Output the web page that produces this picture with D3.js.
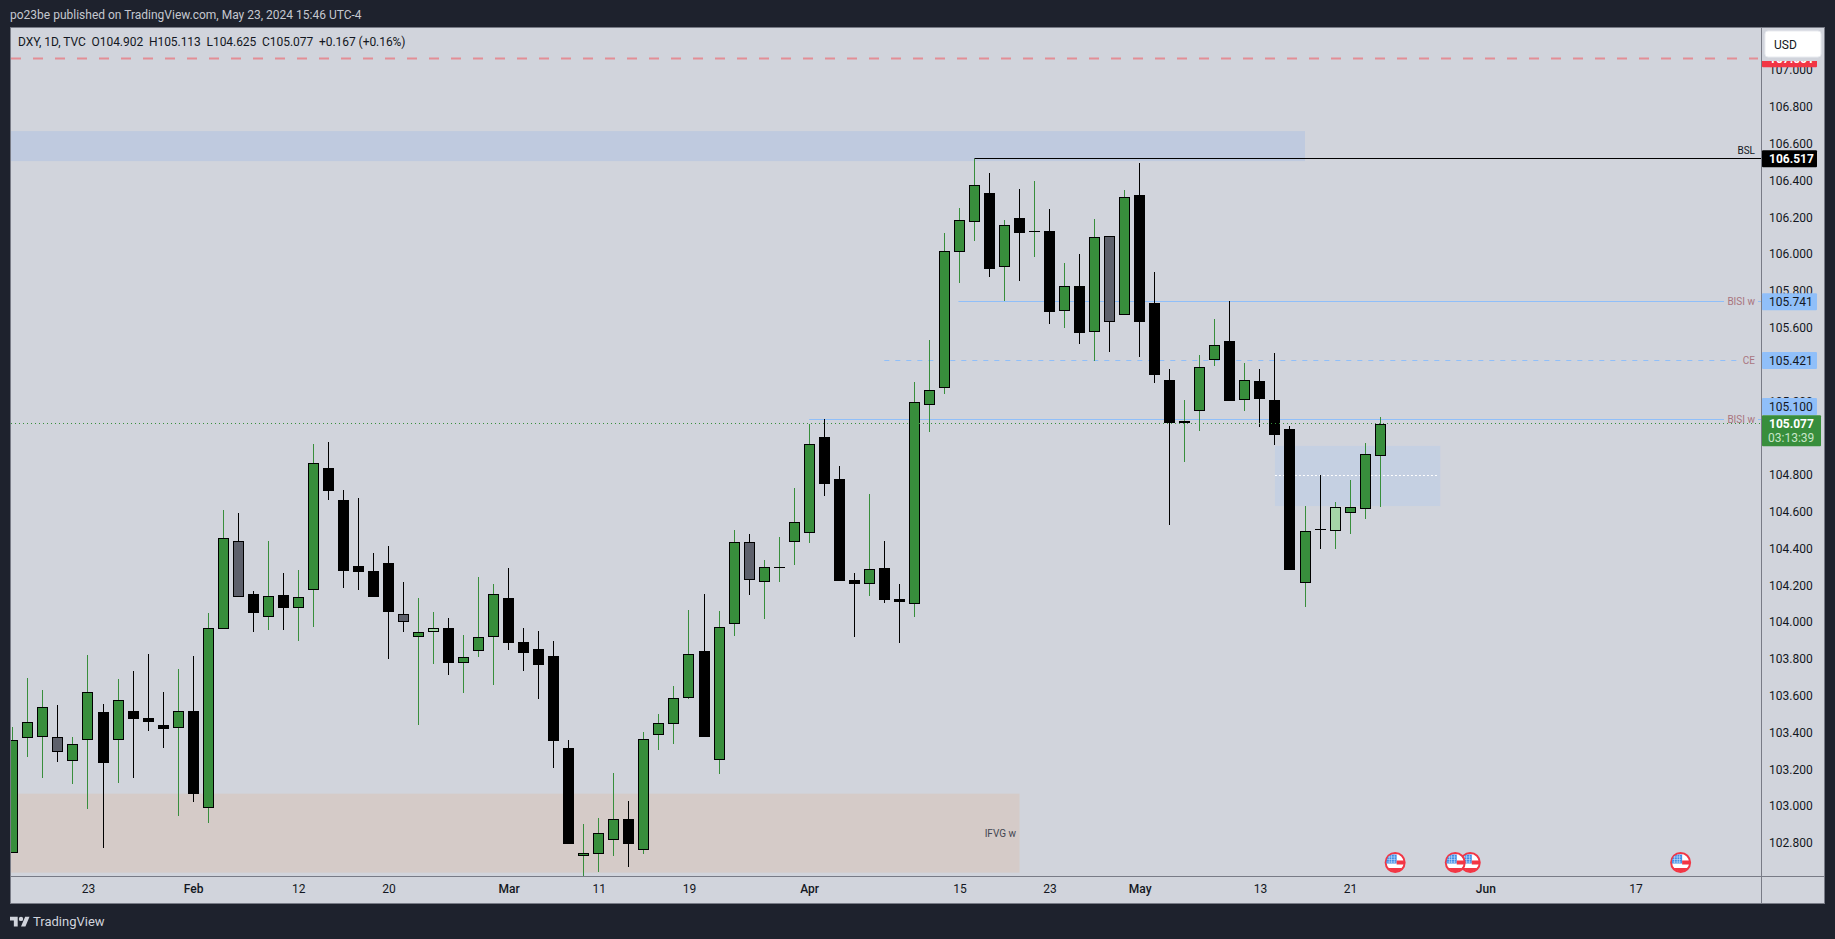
<!DOCTYPE html>
<html>
<head>
<meta charset="utf-8">
<script src="https://d3js.org/d3.v7.min.js"></script>
<style>
  html, body { margin: 0; padding: 0; background: #1e222d; overflow: hidden; }
  text { font-family: Roboto, sans-serif; font-size: 12px; }
</style>
</head>
<body>
<svg id="drawing_region"></svg>
<script>
// trading days, mm-dd, 2024. everything after 05-23 is empty future space
const sessions = [
    '01-16','01-17','01-18','01-19','01-22','01-23','01-24','01-25','01-26','01-29','01-30','01-31',
    '02-01','02-02','02-05','02-06','02-07','02-08','02-09','02-12','02-13','02-14','02-15','02-16',
    '02-19','02-20','02-21','02-22','02-23','02-26','02-27','02-28','02-29',
    '03-01','03-04','03-05','03-06','03-07','03-08','03-11','03-12','03-13','03-14','03-15',
    '03-18','03-19','03-20','03-21','03-22','03-25','03-26','03-27','03-28',
    '04-01','04-02','04-03','04-04','04-05','04-08','04-09','04-10','04-11','04-12',
    '04-15','04-16','04-17','04-18','04-19','04-22','04-23','04-24','04-25','04-26','04-29','04-30',
    '05-01','05-02','05-03','05-06','05-07','05-08','05-09','05-10','05-13','05-14','05-15','05-16','05-17',
    '05-20','05-21','05-22','05-23','05-24','05-27','05-28','05-29','05-30','05-31',
    '06-03','06-04','06-05','06-06','06-07','06-10','06-11','06-12','06-13','06-14','06-17','06-18','06-19','06-20'
];

const opens = [
    102.743,103.368,103.373,103.373,103.243,103.357,103.509,103.357,103.516,103.478,
    103.440,103.422,103.516,102.991,103.964,104.439,104.152,104.029,104.147,104.078,
    104.176,104.837,104.663,104.304,104.277,104.321,104.042,103.917,103.947,103.967,
    103.779,103.844,103.920,104.130,103.890,103.853,103.815,103.315,102.730,102.741,
    102.817,102.929,102.762,103.387,103.447,103.589,103.842,103.248,103.991,104.433,
    104.219,104.297,104.436,104.485,105.005,104.777,104.228,104.208,104.293,104.125,
    104.099,105.181,105.273,106.012,106.176,106.330,105.931,106.194,106.123,106.123,
    105.692,105.826,105.578,106.096,105.670,106.319,105.732,105.314,105.080,105.145,
    105.426,105.527,105.205,105.310,105.207,105.049,104.210,104.506,104.496,104.594,
    104.616,104.902
];
const highs = [
    103.429,103.696,103.630,103.549,103.375,103.821,103.554,103.689,103.734,103.826,
    103.620,103.745,103.815,104.049,104.609,104.592,104.167,104.440,104.266,104.283,
    104.967,104.978,104.717,104.674,104.375,104.413,104.217,104.130,104.054,104.022,
    103.929,104.245,104.207,104.293,103.967,103.951,103.897,103.359,102.902,102.935,
    103.179,103.027,103.402,103.500,103.652,104.065,104.152,104.060,104.500,104.478,
    104.337,104.462,104.728,105.076,105.103,104.848,104.266,104.696,104.440,104.207,
    105.304,105.533,106.114,106.250,106.517,106.440,106.185,106.353,106.397,106.245,
    105.951,106.000,106.190,106.096,106.348,106.495,105.902,105.375,105.207,105.451,
    105.647,105.745,105.408,105.375,105.462,105.065,104.630,104.799,104.652,104.772,
    104.973,105.113
];
const lows = [
    102.743,103.268,103.154,103.241,103.121,102.985,102.773,103.127,103.154,103.409,
    103.317,102.947,103.023,102.909,103.964,104.138,103.947,103.958,103.958,103.898,
    103.974,104.665,104.186,104.176,104.138,103.800,103.947,103.442,103.773,103.714,
    103.616,103.811,103.659,103.849,103.735,103.583,103.208,102.795,102.620,102.643,
    102.730,102.670,102.741,103.306,103.339,103.583,103.377,103.176,103.926,104.148,
    104.018,104.217,104.311,104.429,104.686,104.223,103.920,104.143,104.105,103.888,
    104.029,105.033,105.239,105.844,106.072,105.877,105.745,105.855,105.985,105.621,
    105.599,105.513,105.420,105.469,105.670,105.442,105.301,104.529,104.871,105.040,
    105.393,105.203,105.148,105.061,104.964,104.284,104.083,104.398,104.398,104.480,
    104.561,104.625
];
const closes = [
    103.357,103.455,103.536,103.292,103.335,103.618,103.235,103.574,103.475,103.458,
    103.420,103.515,103.067,103.966,104.455,104.138,104.050,104.140,104.078,104.134,
    104.862,104.714,104.279,104.273,104.138,104.056,103.998,103.944,103.966,103.779,
    103.808,103.917,104.151,103.888,103.833,103.768,103.355,102.795,102.743,102.852,
    102.928,102.795,103.362,103.449,103.585,103.824,103.377,103.971,104.433,104.227,
    104.297,104.297,104.542,104.966,104.752,104.223,104.207,104.286,104.120,104.109,
    105.194,105.259,106.015,106.183,106.373,105.920,106.156,106.116,106.123,105.686,
    105.824,105.572,106.091,105.632,106.308,105.632,105.344,105.080,105.091,105.384,
    105.504,105.203,105.314,105.214,105.018,104.284,104.493,104.502,104.623,104.623,
    104.911,105.077
];

// bars the original author painted by hand
const greyBars = ['01-19','02-06','02-21','03-25','04-29'];
const lightBars = ['02-23','05-06','05-20'];

const priceTicks = [107,106.8,106.6,106.4,106.2,106,105.8,105.6,105.4,105.2,105,104.8,104.6,104.4,104.2,104,103.8,103.6,103.4,103.2,103,102.8];
const timeTicks = ['01-23','02-01','02-12','02-20','03-01','03-11','03-19','04-01','04-15','04-23','05-01','05-13','05-21','06-03','06-17'];
const timeLabels = ['23','Feb','12','20','Mar','11','19','Apr','15','23','May','13','21','Jun','17'];
const monthLabels = ['Feb','Mar','Apr','May','Jun'];

const eventDates = ['06-20','05-31','05-30','05-24'];

// horizontal levels and zones, start null means from the left edge of the pane
const zoneStart = [null, null, '05-14'];
const zoneEnd = ['05-16', '04-19', '05-29'];
const zoneTop = [106.668, 103.067, 104.957];
const zoneBottom = [106.505, 102.638, 104.630];

const bsl = 106.517, bisiHigh = 105.741, ce = 105.421, bisiLow = 105.1, lastClose = 105.077, redLevel = 107.061, zoneMid = 104.797;

class CandleChart {

    constructor( config ) {
        this.config = config;
        this.init();
    }

    init() {
        let self = this;
        let c = self.config;

        self.svg = d3.select( c.parent )
            .attr('width', c.width)
            .attr('height', c.height)
            .style('display', 'block');

        self.xscale = d3.scalePoint()
            .domain( sessions )
            .range( [12.85, 12.85 + 15.025 * (sessions.length - 1)] );

        self.yscale = d3.scaleLinear()
            .domain( [107, 102.8] )
            .range( [70, 842.8] );

        self.bars = sessions.slice(0, opens.length).map( (d, i) => ({
            date: d, o: opens[i], h: highs[i], l: lows[i], c: closes[i]
        }));

        self.svg.append('defs').append('clipPath')
            .attr('id', 'pane_clip')
            .append('rect')
            .attr('x', c.left).attr('y', c.top)
            .attr('width', c.right - c.left).attr('height', c.bottom - c.top);

        self.svg.append('defs').append('clipPath')
            .attr('id', 'flag_clip')
            .append('circle')
            .attr('r', 9);
    }

    update() {
        let self = this;
        self.render();
    }

    render() {
        let self = this;
        self.drawFrame();
        self.pane = self.svg.append('g').attr('clip-path', 'url(#pane_clip)');
        self.drawZones();
        self.drawLevels();
        self.drawCandles();
        self.drawEvents();
        self.drawAxes();
        self.drawPriceLabels();
        self.drawTexts();
    }

    drawFrame() {
        let self = this;
        let c = self.config;

        self.svg.append('rect')
            .attr('x', c.left - 0.5).attr('y', c.top - 0.5)
            .attr('width', c.outerRight - c.left + 1).attr('height', c.outerBottom - c.top + 1)
            .attr('fill', '#d1d4dc')
            .attr('stroke', '#787b86');
    }

    drawZones() {
        let self = this;
        let c = self.config;
        let zoneFill = ['#bfcadf', '#d5cbc8', '#c5d0e2'];

        self.pane.selectAll('.zone')
            .data( zoneEnd )
            .enter()
            .append('rect')
            .attr('class', 'zone')
            .attr('x', (d, i) => zoneStart[i] ? self.xscale(zoneStart[i]) : c.left)
            .attr('y', (d, i) => self.yscale(zoneTop[i]))
            .attr('width', (d, i) => self.xscale(d) - (zoneStart[i] ? self.xscale(zoneStart[i]) : c.left))
            .attr('height', (d, i) => self.yscale(zoneBottom[i]) - self.yscale(zoneTop[i]))
            .attr('fill', (d, i) => zoneFill[i]);
    }

    hline( price, x1, x2, color, dash, width ) {
        let self = this;
        let y = Math.floor( self.yscale(price) ) + 0.5;
        self.pane.append('line')
            .attr('x1', x1).attr('x2', x2)
            .attr('y1', y).attr('y2', y)
            .attr('stroke', color)
            .attr('stroke-width', width || 1)
            .attr('stroke-dasharray', dash || null);
    }

    drawLevels() {
        let self = this;
        let c = self.config;
        let blue = '#90bff9';

        self.hline( redLevel, c.left, c.right - 3, '#e38e95', '10 12', 2 );
        self.hline( bsl, self.xscale('04-16'), c.right, '#000000' );
        self.hline( bisiHigh, self.xscale('04-15') - 1, 1724, blue );
        self.hline( bisiHigh, 1758, c.right, blue );
        self.hline( ce, self.xscale('04-08'), 1737, blue, '5 6' );
        self.hline( bisiLow, self.xscale('04-01'), 1724, blue );
        self.hline( bisiLow, 1758, c.right, blue );
        self.hline( zoneMid, self.xscale('05-14'), self.xscale('05-29') - 2, '#ffffff', '2 2' );
    }

    drawCandles() {
        let self = this;
        let candle = self.pane.selectAll('.candle')
            .data( self.bars )
            .enter()
            .append('g')
            .attr('class', 'candle')
            .attr('shape-rendering', 'crispEdges');

        let px = d => Math.floor( self.xscale(d.date) );
        let top = d => Math.round( self.yscale(Math.max(d.o, d.c)) );
        let bottom = d => Math.round( self.yscale(Math.min(d.o, d.c)) );
        let isUp = d => d.c >= d.o;
        let bodyFill = d => {
            if ( greyBars.includes(d.date) ) return '#5d606b';
            if ( lightBars.includes(d.date) ) return '#a5d6a7';
            return isUp(d) ? '#388e3c' : '#000000';
        };

        candle.append('rect')
            .attr('x', px)
            .attr('y', d => self.yscale(d.h))
            .attr('width', 1)
            .attr('height', d => self.yscale(d.l) - self.yscale(d.h))
            .attr('fill', d => isUp(d) ? '#388e3c' : '#000000');

        candle.append('rect')
            .attr('x', d => px(d) - 5)
            .attr('y', top)
            .attr('width', 11)
            .attr('height', d => Math.max(1, bottom(d) - top(d)))
            .attr('fill', '#000000');

        candle.filter( d => bottom(d) - top(d) > 2 )
            .append('rect')
            .attr('x', d => px(d) - 4)
            .attr('y', d => top(d) + 1)
            .attr('width', 9)
            .attr('height', d => bottom(d) - top(d) - 2)
            .attr('fill', bodyFill);

        // the last price line runs over the bars
        self.hline( lastClose, self.config.left, self.config.right, '#388e3c', '1 3' );
    }

    drawEvents() {
        let self = this;
        let flag = self.pane.selectAll('.event')
            .data( eventDates )
            .enter()
            .append('g')
            .attr('class', 'event')
            .attr('transform', d => `translate(${self.xscale(d)}, 862.5)`);

        flag.append('circle')
            .attr('r', 9.5)
            .attr('fill', '#ffffff')
            .attr('stroke', '#f23645')
            .attr('stroke-width', 2);

        let inner = flag.append('g').attr('clip-path', 'url(#flag_clip)');
        inner.append('rect').attr('x', -9).attr('y', -8).attr('width', 10.5).attr('height', 9).attr('fill', '#3f8ee6');
        inner.append('rect').attr('x', 1.5).attr('y', -2).attr('width', 8).attr('height', 4).attr('fill', '#f23645');
        inner.append('rect').attr('x', -9).attr('y', 5.5).attr('width', 18).attr('height', 4).attr('fill', '#f23645');

        // star grid in the canton
        [-5.5, -3, -0.5].forEach( v => {
            inner.append('rect').attr('x', -8).attr('y', v - 0.25).attr('width', 8.5).attr('height', 0.5).attr('fill', '#dbe9fa');
        });
        [-6, -3.5, -1].forEach( v => {
            inner.append('rect').attr('x', v - 0.25).attr('y', -7.5).attr('width', 0.5).attr('height', 8).attr('fill', '#dbe9fa');
        });
    }

    drawAxes() {
        let self = this;
        let c = self.config;

        self.svg.append('line')
            .attr('x1', c.right + 0.5).attr('x2', c.right + 0.5)
            .attr('y1', c.top).attr('y2', c.outerBottom)
            .attr('stroke', '#787b86');
        self.svg.append('line')
            .attr('x1', c.left).attr('x2', c.outerRight)
            .attr('y1', c.bottom + 0.5).attr('y2', c.bottom + 0.5)
            .attr('stroke', '#787b86');

        let yaxis = d3.axisRight( self.yscale )
            .tickValues( priceTicks )
            .tickFormat( d3.format('.3f') )
            .tickSize(0)
            .tickPadding(8);

        let yaxis_group = self.svg.append('g')
            .attr('transform', `translate(${c.right}, 0)`)
            .call( yaxis );
        yaxis_group.select('.domain').remove();
        yaxis_group.selectAll('text')
            .attr('fill', '#131722')
            .style('font-family', null)
            .style('font-size', '12px');

        let xaxis = d3.axisBottom( self.xscale )
            .tickValues( timeTicks )
            .tickFormat( (d, i) => timeLabels[i] )
            .tickSize(0)
            .tickPadding(8);

        let xaxis_group = self.svg.append('g')
            .attr('transform', `translate(0, ${c.bottom})`)
            .call( xaxis );
        xaxis_group.select('.domain').remove();
        xaxis_group.selectAll('text')
            .attr('fill', '#131722')
            .style('font-weight', (d, i) => monthLabels.includes(timeLabels[i]) ? 500 : 400);
    }

    priceTag( price, fill, textFill, weight, dy ) {
        let self = this;
        let c = self.config;
        let y = self.yscale(price) + (dy || 0);

        self.svg.append('rect')
            .attr('x', c.right + 1).attr('y', y - 8.5)
            .attr('width', 55).attr('height', 17)
            .attr('rx', 1)
            .attr('fill', fill);
        self.svg.append('text')
            .attr('x', c.right + 8).attr('y', y)
            .attr('dy', '0.36em')
            .attr('fill', textFill)
            .attr('font-weight', weight || 400)
            .text( d3.format('.3f')(price) );
    }

    drawPriceLabels() {
        let self = this;
        let c = self.config;

        self.priceTag( redLevel, '#f23645', '#ffffff', 700 );

        // the currency button hides the top of the red tag
        self.svg.append('rect')
            .attr('x', c.right + 1).attr('y', c.top)
            .attr('width', c.outerRight - c.right - 1).attr('height', 33)
            .attr('fill', '#d1d4dc');
        self.svg.append('rect')
            .attr('x', 1765).attr('y', 31)
            .attr('width', 56).attr('height', 26)
            .attr('rx', 3)
            .attr('fill', '#ffffff')
            .attr('stroke', '#e9ebf0');
        self.svg.append('text')
            .attr('x', 1774).attr('y', 44.5)
            .attr('dy', '0.36em')
            .attr('fill', '#131722')
            .text('USD');

        self.priceTag( bsl, '#000000', '#ffffff', 700 );
        self.priceTag( bisiHigh, '#90bff9', '#131722' );
        self.priceTag( ce, '#90bff9', '#131722' );
        self.priceTag( bisiLow, '#90bff9', '#131722', 400, -13 );

        // last price with countdown
        let y = self.yscale(lastClose);
        self.svg.append('rect')
            .attr('x', c.right + 1).attr('y', y - 8.5)
            .attr('width', 59).attr('height', 31)
            .attr('rx', 1)
            .attr('fill', '#388e3c');
        self.svg.append('text')
            .attr('x', c.right + 8).attr('y', y)
            .attr('dy', '0.36em')
            .attr('fill', '#ffffff')
            .attr('font-weight', 700)
            .text( d3.format('.3f')(lastClose) );
        self.svg.append('text')
            .attr('x', c.right + 7).attr('y', y + 14)
            .attr('dy', '0.36em')
            .attr('fill', '#c8e6c9')
            .text('03:13:39');
    }

    drawTexts() {
        let self = this;

        let note = ( txt, x, price, color ) => {
            self.svg.append('text')
                .attr('x', x).attr('y', self.yscale(price))
                .attr('dy', '0.36em')
                .attr('text-anchor', 'end')
                .attr('fill', color)
                .style('font-size', '10px')
                .text( txt );
        };
        note( 'BSL', 1755, bsl + 0.045, '#131722' );
        note( 'BISI w', 1755, bisiHigh, '#a9747f' );
        note( 'CE', 1755, ce, '#a9747f' );
        note( 'BISI w', 1755, bisiLow, '#a9747f' );
        note( 'IFVG w', 1016, 102.849, '#434651' );

        self.svg.append('text')
            .attr('x', 10).attr('y', 15)
            .attr('dy', '0.36em')
            .attr('fill', '#c5c8d0')
            .text('po23be published on TradingView.com, May 23, 2024 15:46 UTC-4');

        self.svg.append('text')
            .attr('x', 18).attr('y', 41.5)
            .attr('dy', '0.36em')
            .attr('fill', '#131722')
            .style('white-space', 'pre')
            .style('letter-spacing', '-0.05px')
            .text('DXY, 1D, TVC  O104.902  H105.113  L104.625  C105.077  +0.167 (+0.16%)');

        let logo = self.svg.append('g')
            .attr('transform', 'translate(10, 914.5) scale(0.55)')
            .attr('fill', '#d1d4dc');
        logo.append('path').attr('d', 'M14 22H7V11H0V4h14v18zM28 22h-8l7.5-18h8L28 22z');
        logo.append('circle').attr('cx', 20).attr('cy', 8).attr('r', 4);

        self.svg.append('text')
            .attr('x', 33).attr('y', 921.5)
            .attr('dy', '0.36em')
            .attr('fill', '#d1d4dc')
            .style('font-size', '13px')
            .text('TradingView');
    }
}

var config = {
    parent: '#drawing_region',
    width: 1835,
    height: 939,
    left: 11,
    top: 28,
    right: 1761,
    bottom: 876,
    outerRight: 1824,
    outerBottom: 903
};

const chart = new CandleChart( config );
chart.update();
</script>
</body>
</html>
